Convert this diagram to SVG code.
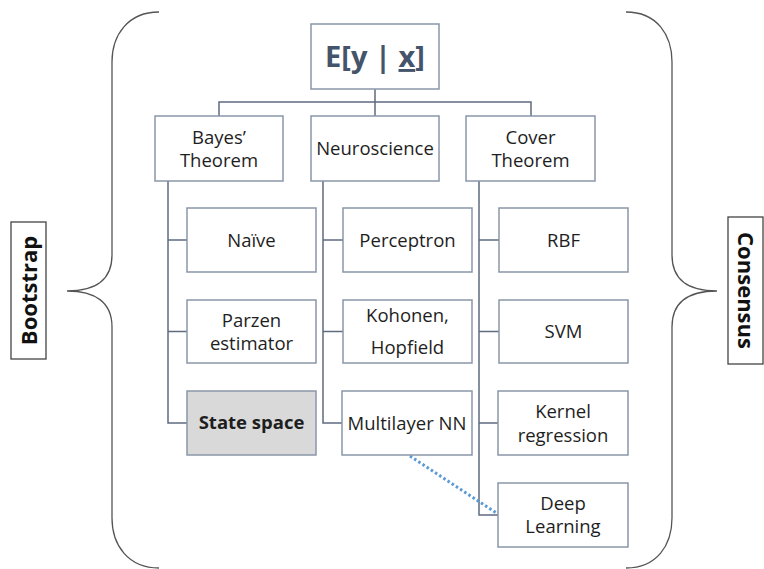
<svg xmlns="http://www.w3.org/2000/svg" width="764" height="569" viewBox="0 0 764 569">
  <style>
    .box { fill: #ffffff; stroke: #8a96a8; stroke-width: 1.5; }
    .shaded { fill: #d9d9d9; }
    .lbl { font-family: "Open Sans", "Noto Sans", sans-serif; font-size: 18.5px; fill: #1e1e1e; text-anchor: middle; }
    .bold { font-weight: bold; }
    .wire { fill: none; stroke: #5f6b80; stroke-width: 1.5; }
    .brace { fill: none; stroke: #555555; stroke-width: 1.3; }
    .side { fill: #ffffff; stroke: #444444; stroke-width: 1.3; }
    .sidetxt { font-family: "Open Sans", "Noto Sans", sans-serif; font-size: 22px; font-weight: bold; fill: #111111; text-anchor: middle; }
  </style>

  <!-- enclosing braces -->
  <g id="braces">
    <path class="brace" d="M159,12 C128,12 112,35 112,62 L112,255 C112,280 95,291 67,291 C95,291 112,302 112,327 L112,518 C112,545 128,568 159,568"/>
    <path class="brace" d="M626,12 C657,12 672,35 672,62 L672,255 C672,280 689,291 717,291 C689,291 672,302 672,327 L672,518 C672,545 657,568 626,568"/>
  </g>

  <g id="bootstrap">
    <rect class="side" x="11" y="222" width="35" height="137"/>
    <text class="sidetxt" transform="translate(36.5,290.5) rotate(-90)" x="0" y="0">Bootstrap</text>
  </g>
  <g id="consensus">
    <rect class="side" x="728" y="217" width="35" height="147"/>
    <text class="sidetxt" transform="translate(737.5,290.5) rotate(90)" x="0" y="0">Consensus</text>
  </g>

  <!-- connectors -->
  <g id="connectors">
    <path class="wire" d="M375,89 V102 M219,116 V102 H531 V116 M375,102 V116"/>
    <path class="wire" d="M168,181 V423 H187 M168,240 H187 M168,331.5 H187"/>
    <path class="wire" d="M323,181 V423 H342 M323,240 H343 M323,331.5 H343"/>
    <path class="wire" d="M479,181 V515 H498 M479,240 H499 M479,331.5 H499 M479,423 H498"/>
    <path d="M410,456 L498,514" fill="none" stroke="#5b9bd5" stroke-width="3" stroke-dasharray="2.5 2.5"/>
  </g>

  <g id="root">
    <rect class="box" x="311" y="24" width="128" height="65"/>
    <text x="375" y="67" font-family="'Open Sans', 'Noto Sans', sans-serif" font-size="29px" font-weight="bold" fill="#44546a" text-anchor="middle">E[y | <tspan text-decoration="underline">x</tspan>]</text>
  </g>

  <g id="bayes">
    <rect class="box" x="155" y="116" width="128" height="65"/>
    <text class="lbl" x="219" y="144">Bayes’</text>
    <text class="lbl" x="219" y="167">Theorem</text>
  </g>
  <g id="neuroscience">
    <rect class="box" x="311" y="116" width="128" height="65"/>
    <text class="lbl" x="375" y="155">Neuroscience</text>
  </g>
  <g id="cover">
    <rect class="box" x="466" y="116" width="129" height="65"/>
    <text class="lbl" x="530.5" y="144">Cover</text>
    <text class="lbl" x="530.5" y="167">Theorem</text>
  </g>

  <g id="naive">
    <rect class="box" x="187" y="208" width="129" height="64"/>
    <text class="lbl" x="251.5" y="247">Naïve</text>
  </g>
  <g id="parzen">
    <rect class="box" x="187" y="300" width="129" height="63"/>
    <text class="lbl" x="251.5" y="327">Parzen</text>
    <text class="lbl" x="251.5" y="350">estimator</text>
  </g>
  <g id="statespace">
    <rect class="box shaded" x="187" y="391" width="129" height="64"/>
    <text class="lbl bold" x="251.5" y="429">State space</text>
  </g>

  <g id="perceptron">
    <rect class="box" x="343" y="208" width="129" height="64"/>
    <text class="lbl" x="407.5" y="247">Perceptron</text>
  </g>
  <g id="kohonen">
    <rect class="box" x="343" y="300" width="129" height="63"/>
    <text class="lbl" x="407.5" y="322">Kohonen,</text>
    <text class="lbl" x="407.5" y="354">Hopfield</text>
  </g>
  <g id="multilayer">
    <rect class="box" x="342" y="391" width="130" height="64"/>
    <text class="lbl" x="407" y="430">Multilayer NN</text>
  </g>

  <g id="rbf">
    <rect class="box" x="499" y="208" width="129" height="64"/>
    <text class="lbl" x="563.5" y="247">RBF</text>
  </g>
  <g id="svm">
    <rect class="box" x="499" y="300" width="129" height="63"/>
    <text class="lbl" x="563.5" y="338">SVM</text>
  </g>
  <g id="kernel">
    <rect class="box" x="498" y="391" width="130" height="64"/>
    <text class="lbl" x="563" y="418">Kernel</text>
    <text class="lbl" x="563" y="442">regression</text>
  </g>
  <g id="deeplearning">
    <rect class="box" x="498" y="483" width="130" height="64"/>
    <text class="lbl" x="563" y="510">Deep</text>
    <text class="lbl" x="563" y="533">Learning</text>
  </g>
</svg>
